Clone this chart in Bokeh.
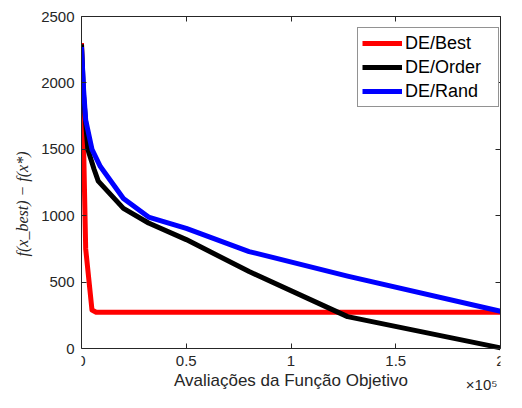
from bokeh.plotting import figure
from bokeh.models import Range1d, FixedTicker, LinearAxis, Label, Legend, LegendItem
from bokeh.embed import file_html
from bokeh.resources import INLINE

# ---- data ----
evals_best = [0, 2000, 5000, 7000, 200000]
f_best = [2300, 750, 290, 273, 273]

evals_order = [0, 1000, 3000, 6000, 8000, 20000, 32000, 50000, 80000, 127000, 200000]
f_order = [2290, 1900, 1500, 1350, 1260, 1055, 945, 820, 580, 240, 5]

evals_rand = [0, 1000, 2000, 5000, 9000, 20000, 32000, 50000, 80000, 127000, 200000]
f_rand = [2270, 1950, 1720, 1500, 1370, 1130, 990, 905, 730, 545, 280]

x_ticks = [0, 50000, 100000, 150000, 200000]
x_tick_labels = ["0", "0.5", "1", "1.5", "2"]
y_ticks = [0, 500, 1000, 1500, 2000, 2500]
y_max = 2500
x_max = 200000

series_names = ["DE/Best", "DE/Order", "DE/Rand"]
series_colors = ["#ff0000", "#000000", "#0000ff"]

AX = "#262626"
FONT = "Liberation Sans"

# the frame reaches below y=0 so that the x-axis texts and the x10^5 note sit inside it
px_per_unit = 332 / y_max
y_low = -43 / px_per_unit

p = figure(width=506, height=392, output_backend="svg", toolbar_location=None,
           x_range=Range1d(0, x_max), y_range=Range1d(y_low, y_max),
           min_border_left=81, min_border_right=6, min_border_top=16, min_border_bottom=1)
p.background_fill_color = "white"
p.border_fill_color = "white"
p.outline_line_color = None
p.grid.visible = False

r1 = p.line(evals_best, f_best, line_color=series_colors[0], line_width=5, line_join="round")
r2 = p.line(evals_order, f_order, line_color=series_colors[1], line_width=5, line_join="round")
r3 = p.line(evals_rand, f_rand, line_color=series_colors[2], line_width=5, line_join="round")

def style_axis(ax, labels=True):
    ax.axis_line_color = AX
    ax.axis_line_width = 1
    ax.major_tick_line_color = AX
    ax.major_tick_in = 5
    ax.major_tick_out = 0
    ax.minor_tick_line_color = None
    ax.major_label_text_font = FONT
    if labels:
        ax.major_label_text_color = AX
        ax.major_label_text_font_size = "15px"
        ax.major_label_standoff = 6
    else:
        ax.major_label_text_color = None
        ax.major_label_text_font_size = "1px"
        ax.major_label_standoff = 0

xa = p.xaxis[0]
style_axis(xa)
xa.fixed_location = 0
xa.major_label_standoff = 7
xa.ticker = FixedTicker(ticks=x_ticks)
xa.major_label_overrides = {t: l for t, l in zip(x_ticks, x_tick_labels)}
xa.axis_label = "Avaliações da Função Objetivo"
xa.axis_label_text_font = FONT
xa.axis_label_text_font_style = "normal"
xa.axis_label_text_font_size = "17px"
xa.axis_label_text_color = AX
xa.axis_label_standoff = 2

ya = p.yaxis[0]
style_axis(ya)
ya.bounds = (0, y_max)
ya.major_label_standoff = 7
ya.ticker = FixedTicker(ticks=y_ticks)
ya.axis_label = "f(x_best) − f(x*)"
ya.axis_label_text_font = "Liberation Serif"
ya.axis_label_text_font_style = "italic"
ya.axis_label_text_font_size = "16px"
ya.axis_label_text_color = AX
ya.axis_label_standoff = 7

top = LinearAxis(ticker=FixedTicker(ticks=x_ticks))
style_axis(top, labels=False)
p.add_layout(top, "above")
right = LinearAxis(ticker=FixedTicker(ticks=y_ticks), bounds=(0, y_max))
style_axis(right, labels=False)
p.add_layout(right, "right")

p.add_layout(Label(x=x_max, y=-36 / px_per_unit, x_offset=-3, text="×10⁵",
                   text_font=FONT, text_font_size="15px",
                   text_color=AX, text_align="right", text_baseline="middle"))

legend = Legend(items=[LegendItem(label=n, renderers=[r]) for n, r in zip(series_names, [r1, r2, r3])],
                location=(276, 284), label_text_font=FONT, label_text_font_size="18px",
                label_text_color="#000000", glyph_width=40, glyph_height=22, label_height=22,
                label_width=89, label_standoff=3, spacing=2, padding=4, margin=0,
                border_line_color=AX, border_line_width=1, background_fill_color="white",
                background_fill_alpha=1)
p.add_layout(legend)

open("out.html", "w").write(file_html(p, INLINE))
